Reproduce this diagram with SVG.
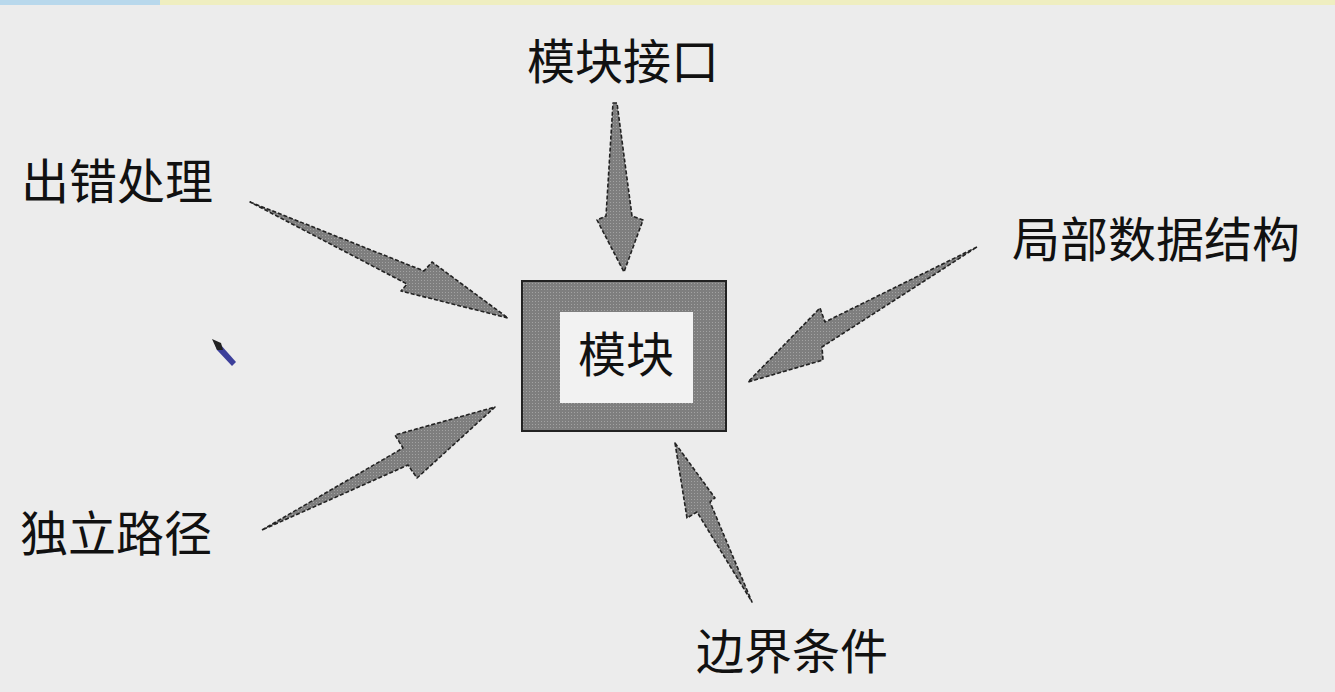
<svg xmlns="http://www.w3.org/2000/svg" width="1335" height="692" viewBox="0 0 1335 692">
<defs>
<pattern id="dots" width="3" height="3" patternUnits="userSpaceOnUse">
<rect width="3" height="3" fill="#7e7e7e"/>
<rect x="1" y="1" width="1" height="1" fill="#a2a2a2"/>
</pattern>
<style>
.lbl{font-family:"Noto Sans CJK SC","Noto Sans CJK JP",sans-serif;font-size:48px;fill:#111;}
.arr{fill:url(#dots);stroke:#222;stroke-width:1.6;stroke-dasharray:4 2;stroke-linejoin:round;}
</style>
</defs>
<rect width="1335" height="692" fill="#ececec"/>
<rect x="0" y="0" width="160" height="5" fill="#b8d8ec"/>
<rect x="160" y="0" width="1175" height="5" fill="#efeec0"/>

<g id="module">
<rect x="522" y="281" width="204" height="150" fill="url(#dots)" stroke="#222" stroke-width="2"/>
<rect x="560" y="312" width="133" height="91" fill="#f2f2f2"/>
<text class="lbl" x="626" y="372" text-anchor="middle">模块</text>
</g>

<g id="label-interface"><text class="lbl" x="623" y="79" text-anchor="middle">模块接口</text></g>
<g id="label-error"><text class="lbl" x="117" y="199" text-anchor="middle">出错处理</text></g>
<g id="label-local"><text class="lbl" x="1156" y="257" text-anchor="middle">局部数据结构</text></g>
<g id="label-path"><text class="lbl" x="116" y="551" text-anchor="middle">独立路径</text></g>
<g id="label-boundary"><text class="lbl" x="792" y="669" text-anchor="middle">边界条件</text></g>

<g id="connectors">
<polygon class="arr" points="250,202 424,271 432,262 508,318 401,291 407,284"/>
<polygon class="arr" points="613,103 617,103 632,216 643,220 624,272 597,220 606,216"/>
<polygon class="arr" points="977,247 825,322 820,308 748,382 823,360 822,347"/>
<polygon class="arr" points="262,530 403,448 395,435 495,407 417,478 408,465"/>
<polygon class="arr" points="675,443 715,498 710,502 752,602 697,512 687,518"/>
</g>

<g id="cursor">
<polygon points="214,341 220,344 236,362 232,366 217,350" fill="#3c3f9a"/>
<polygon points="212,339 221,343 223,350 217,350" fill="#222"/>
</g>
</svg>
